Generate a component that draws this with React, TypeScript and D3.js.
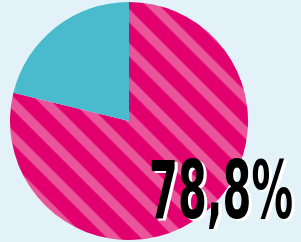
import React from "react";
import * as d3 from "d3";

const categories = ["Oui", "Non"];
const values = [78.8, 21.2];
const labelText = "78,8%";

const W = 301;
const H = 242;
const cx = 129;
const cy = 121;
const R = 119;

export default function App() {
  const pie = d3
    .pie<number>()
    .sort(null)
    .value((d) => d)
    .startAngle(0)
    .endAngle(2 * Math.PI);
  const arcs = pie(values);
  const arc = d3.arc<d3.PieArcDatum<number>>().innerRadius(0).outerRadius(R);
  const fills = ["url(#stripes)", "#49BBCD"];

  return (
    <svg
      width={W}
      height={H}
      style={{ position: "absolute", left: 0, top: 0, display: "block" }}
    >
      <defs>
        <pattern
          id="stripes"
          patternUnits="userSpaceOnUse"
          width={48}
          height={24}
          patternTransform="rotate(45)"
        >
          <rect x={0} y={0} width={48} height={24} fill="#E2006E" />
          <rect x={0} y={16.75} width={48} height={7.25} fill="#EA5499" />
          <rect x={0} y={0} width={48} height={2.25} fill="#EA5499" />
        </pattern>
      </defs>
      <rect x={0} y={0} width={W} height={H} fill="#E3F2F8" />
      <g transform={`translate(${cx},${cy})`}>
        {arcs.map((a, i) => (
          <path key={categories[i]} d={arc(a) || ""} fill={fills[i]} />
        ))}
      </g>
      <g
        style={{
          fontFamily: "'Liberation Sans Narrow', 'DejaVu Sans Condensed', sans-serif",
          fontWeight: 700,
          fontSize: 80,
        }}
      >
        <text
          x={152}
          y={220}
          fill="#FFFFFF"
          textLength={144}
          lengthAdjust="spacingAndGlyphs"
        >
          {labelText}
        </text>
        <text
          x={149}
          y={218}
          fill="#000000"
          textLength={144}
          lengthAdjust="spacingAndGlyphs"
        >
          {labelText}
        </text>
      </g>
    </svg>
  );
}
